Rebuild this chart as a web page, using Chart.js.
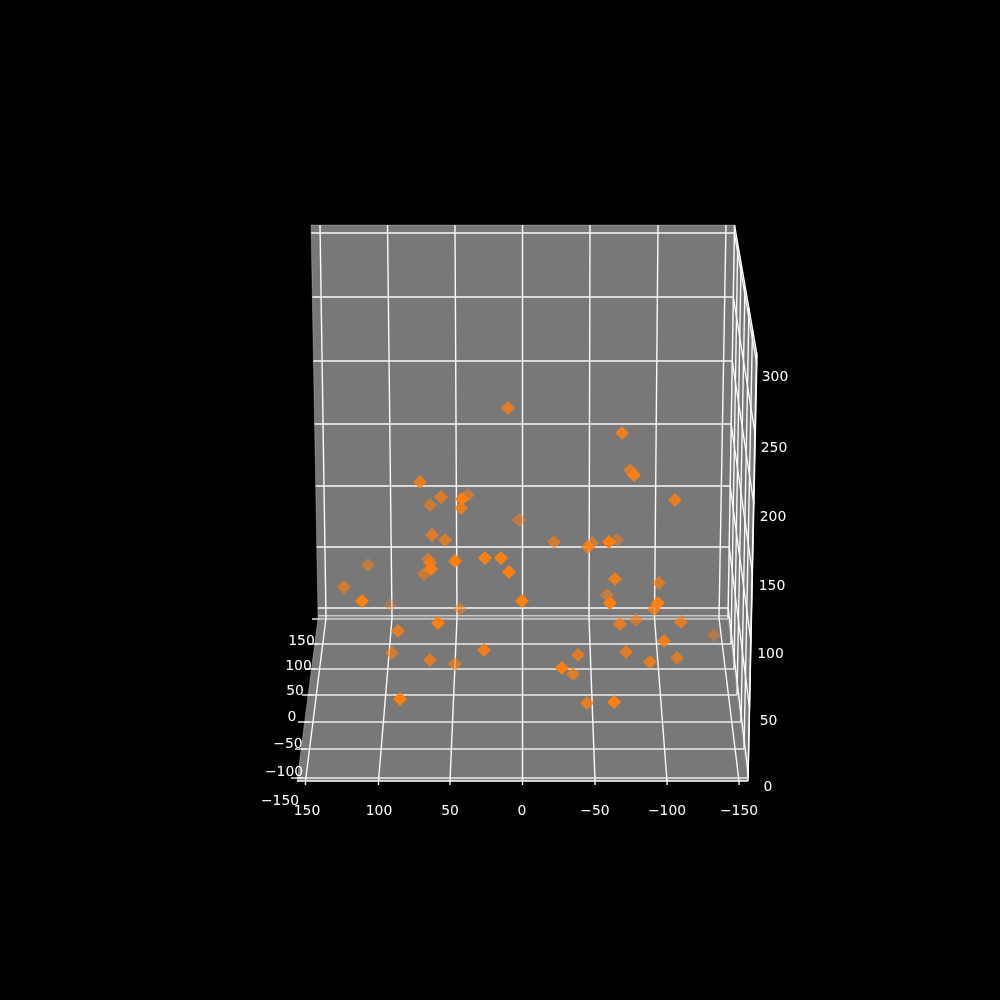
<!DOCTYPE html>
<html>
<head>
<meta charset="utf-8">
<title>3D scatter</title>
<script src="https://cdn.jsdelivr.net/npm/chart.js@4"></script>
<style>
  html, body { margin: 0; padding: 0; background: #000; }
  canvas { display: block; }
</style>
</head>
<body>
<canvas id="chart" width="1000" height="1000"></canvas>
<script>
// scatter markers
const pointX = [508,622,630,634,675,420,441,430,462,468,461,519,432,445,428,430,431,424,368,344,362,390,455,485,501,509,522,460,438,398,554,588,592,609,617,615,659,607,610,658,654,636,620,681,714,664,626,578,650,677,562,573,587,614,400,392,430,455,484];
const pointY = [408,433,470,475,500,482,497,505,499,495,508,520,535,540,559,563,569,574,565,587,601,605,561,558,558,572,601,609,623,631,542,547,543,542,540,579,583,595,603,603,609,620,624,622,635,641,652,655,662,658,668,674,703,702,699,653,660,664,650];
const pointAlpha = [.8,.85,.7,.95,.8,.8,.75,.6,1,.55,.8,.55,.75,.7,.6,.75,.95,.6,.55,.65,1,.3,1,1,1,1,1,.5,1,.8,.65,.85,.65,1,.45,.85,.7,.55,1,.95,.8,.6,.8,.75,.4,.85,.75,.75,.8,.7,1,.75,.8,1,1,.65,.75,.65,.9];

// tick labels
const xTickLabels = ['150','100','50','0','\u221250','\u2212100','\u2212150'];
const yTickLabels = ['150','100','50','0','\u221250','\u2212100','\u2212150'];
const zTickLabels = ['300','250','200','150','100','50','0'];

// x ticks: top of back wall, foot of back wall, front of floor
const xGridTop = [320,387.5,455,522.5,590,658,726];
const xGridFoot = [326,392,457,522.5,589,654.5,719];
const xGridFront = [305.5,378.5,450,522.5,595,667,739];

// y ticks: floor rows, left and right ends, then top of the right wall
const yGridRow = [619,644,669,695,722,749,778];
const yGridLeft = [318,315,311.5,308,304.5,301,297.5];
const yGridRight = [728,731,734,737,741,744,748];
const yWallTopX = [734.5,737.7,741,745,749,752.5,756.5];
const yWallTopY = [225,246,265,286,308,329,352];
const yTickOuter = [312,308,305,302,298,295,291];
const yTickInner = [320,319,316,313,310,306,303];

// z ticks: row on the back wall, and where it ends on the right wall
const zGridRow = [233,297,361,424,486,547,608];
const zWallEnd = [364,435,504,573,641,708,773];

// walls
const backPane = [[311,225],[734.5,225],[728,618],[318,618]];
const floorPane = [[318,618],[728,618],[748,781],[297,781]];
const sidePane = [[734.5,225],[757,355],[748,781],[728,618]];

const xLabelX = [307,379,450,522,595,667,739];
const yLabelX = [301.5,298.5,295,292,288,284,280];
const yLabelY = [641,666,691,717,744,772,801];
const zLabelX = [775,774,773,772,770.5,768.5,768];
const zLabelY = [377,448,517,586,654,721,787];

const datasets = [];

function addPane(corners) {
    const pts = corners.concat([corners[0]]).map(c => ({ x: c[0], y: c[1] }));
    datasets.push({
        data: pts, showLine: true, fill: 'shape', tension: 0,
        backgroundColor: '#787878', borderColor: 'rgba(255,255,255,0.25)',
        borderWidth: 1, pointRadius: 0, order: 3
    });
}

function addLine(x1, y1, x2, y2, color) {
    datasets.push({
        data: [{ x: x1, y: y1 }, { x: x2, y: y2 }], showLine: true, tension: 0,
        borderColor: color || '#fafafa', borderWidth: 1.4, pointRadius: 0, order: 2
    });
}

function edgeX(y, top, bottom, topX, bottomX) {
    return topX + (y - top) / (bottom - top) * (bottomX - topX);
}

addPane(backPane);
addPane(floorPane);
addPane(sidePane);

// back wall and floor grid
xGridTop.forEach((x, i) => {
    addLine(x, 225, xGridFoot[i], 618);
    addLine(xGridFoot[i], 618, xGridFront[i], 781);
    addLine(xGridFront[i], 781, xGridFront[i], 785);
});
yGridRow.forEach((y, i) => {
    addLine(yGridLeft[i], y, yGridRight[i], y, i === 0 ? '#c8c8c8' : '#ececec');
    addLine(yGridRight[i], y, yWallTopX[i], yWallTopY[i]);
    addLine(yTickOuter[i], y, yTickInner[i], y);
});
zGridRow.forEach((y, i) => {
    const left = edgeX(y, 225, 618, 311, 318);
    const right = edgeX(y, 225, 618, 734.5, 728);
    addLine(left, y, right, y);
    const farX = edgeX(zWallEnd[i], 355, 781, 757, 748);
    addLine(right, y, farX, zWallEnd[i]);
});
addLine(318, 615.7, 728, 615.7, '#c8c8c8');
addLine(297, 781, 748, 781);
addLine(734.5, 225, 757, 355);
addLine(757, 355, 748, 781);

// markers, faint (far) ones first
const order = pointX.map((_, i) => i).sort((a, b) => pointAlpha[a] - pointAlpha[b]);
datasets.push({
    data: order.map(i => ({ x: pointX[i], y: pointY[i] })),
    pointStyle: 'rectRot',
    pointRadius: 7,
    pointBorderWidth: 0,
    pointBackgroundColor: order.map(i => `rgba(255,127,14,${pointAlpha[i]})`),
    showLine: false,
    order: 1
});

const tickText = {
    id: 'tickText',
    afterDraw(chart) {
        const { ctx, scales } = chart;
        ctx.save();
        ctx.fillStyle = '#fff';
        ctx.font = '13.9px "DejaVu Sans"';
        ctx.textBaseline = 'middle';
        const put = (s, x, y) => {
            ctx.textAlign = 'center';
            ctx.fillText(s, scales.x.getPixelForValue(x), scales.y.getPixelForValue(y));
        };
        xTickLabels.forEach((s, i) => put(s, xLabelX[i], 811.5));
        yTickLabels.forEach((s, i) => put(s, yLabelX[i], yLabelY[i]));
        zTickLabels.forEach((s, i) => put(s, zLabelX[i], zLabelY[i]));
        ctx.restore();
    }
};

new Chart(document.getElementById('chart'), {
    type: 'scatter',
    data: { datasets: datasets },
    plugins: [tickText],
    options: {
        responsive: false,
        animation: false,
        layout: { padding: 0, autoPadding: false },
        plugins: { legend: { display: false }, tooltip: { enabled: false } },
        scales: {
            x: { type: 'linear', display: false, min: 0, max: 1000 },
            y: { type: 'linear', display: false, min: 0, max: 1000, reverse: true }
        }
    }
});
</script>
</body>
</html>
